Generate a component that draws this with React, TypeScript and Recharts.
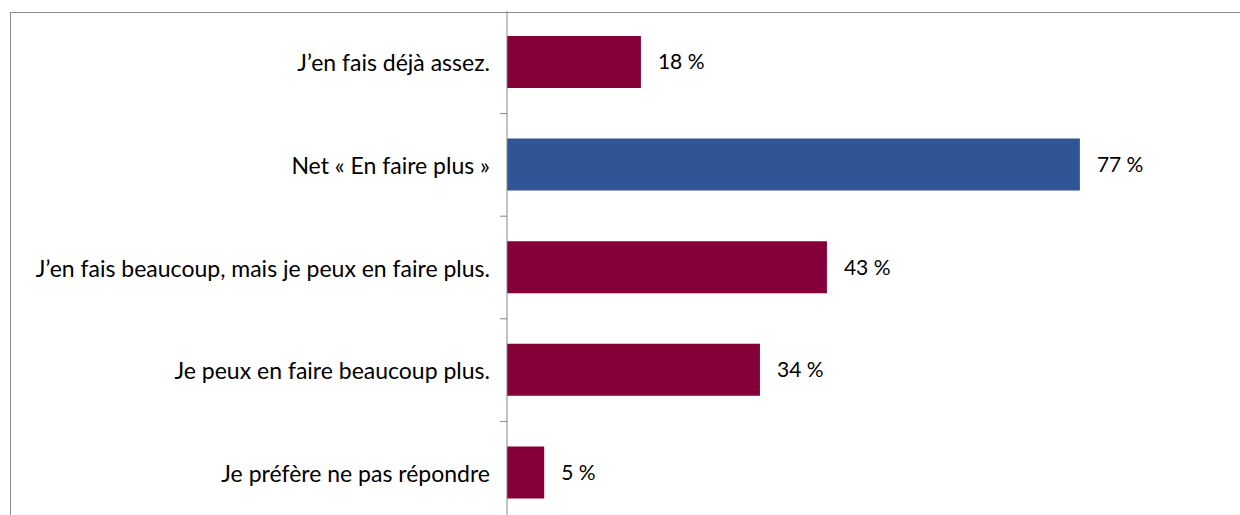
import { BarChart, Bar, XAxis, YAxis, Cell, LabelList } from 'recharts'

const categories = [
  'J\u2019en fais déjà assez.',
  'Net « En faire plus »',
  'J\u2019en fais beaucoup, mais je peux en faire plus.',
  'Je peux en faire beaucoup plus.',
  'Je préfère ne pas répondre',
]
const values = [18, 77, 43, 34, 5]
const netCategory = 'Net « En faire plus »'

const data = categories.map((name, i) => ({ name, value: values[i] }))

const CHART_W = 1260
const CHART_H = 513
const AXIS_W = 497
const FONT = 'Lato, "Open Sans", sans-serif'
const BAND = CHART_H / categories.length

function CategoryTick(props: any) {
  const { x, y, payload, index } = props
  const axisX = x + 17
  return (
    <g>
      <text
        x={x}
        y={y}
        textAnchor="end"
        dominantBaseline="central"
        fontFamily={FONT}
        fontSize={23}
        fill="#000"
      >
        {payload.value}
      </text>
      {index < categories.length - 1 && (
        <line x1={axisX - 7} x2={axisX} y1={y + BAND / 2} y2={y + BAND / 2} stroke="#868686" strokeWidth={1} />
      )}
    </g>
  )
}

export default function App() {
  return (
    <div style={{ position: 'absolute', left: 0, top: 0, width: 1240, height: 515, overflow: 'hidden', background: '#fff' }}>
      <div
        style={{
          position: 'absolute',
          left: 10,
          top: 12,
          width: 1400,
          height: 700,
          borderLeft: '1px solid #8c8c8c',
          borderTop: '1px solid #8c8c8c',
        }}
      />
      <div style={{ position: 'absolute', left: 10, top: 11 }}>
        <BarChart
          width={CHART_W}
          height={CHART_H}
          data={data}
          layout="vertical"
          margin={{ top: 0, right: 19, bottom: 0, left: 0 }}
          barSize={52}
        >
          <XAxis type="number" domain={[0, 100]} hide />
          <YAxis
            type="category"
            dataKey="name"
            width={AXIS_W}
            axisLine={{ stroke: '#868686' }}
            tickLine={false}
            tickSize={0}
            tickMargin={17}
            tick={<CategoryTick />}
            interval={0}
          />
          <Bar dataKey="value" isAnimationActive={false}>
            {data.map((d) => (
              <Cell key={d.name} fill={d.name === netCategory ? '#2F5597' : '#850038'} />
            ))}
            <LabelList
              dataKey="value"
              position="right"
              offset={17}
              formatter={(v: any) => `${v} %`}
              style={{ fontFamily: FONT, fontSize: 21, fill: '#000' }}
            />
          </Bar>
        </BarChart>
      </div>
    </div>
  )
}
